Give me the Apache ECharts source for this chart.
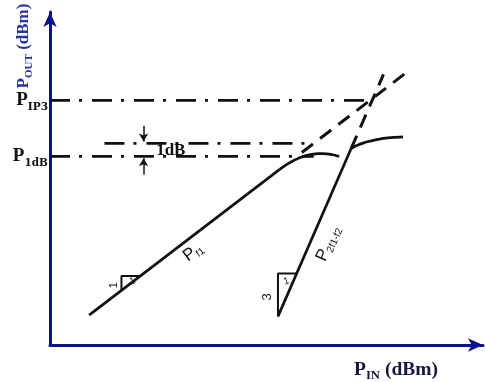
<!DOCTYPE html>
<html><head><meta charset="utf-8">
<script src="https://cdn.jsdelivr.net/npm/echarts@6/dist/echarts.min.js"></script>
<style>html,body{margin:0;padding:0;background:#fff}#chart{width:485px;height:382px}</style>
</head><body><div id="chart"></div>
<script>
// Axis ranges (dBm)
const pinRange = [-25, 0.45];
const poutRange = [-20, 5.6];

// Fundamental tone P_f1: linear 1 dB/dB region, then gain compression
const fundamentalLinPin  = [-22.7, -11.5];
const fundamentalLinPout = [-17.7, -6.5];
const fundamentalCompPin  = [-11.5, -11.25, -11.0, -10.75, -10.5, -10.25, -10.0, -9.75, -9.5, -9.25, -9.0, -8.75, -8.5, -8.25, -8.0];
const fundamentalCompPout = [-6.5, -6.27, -6.06, -5.87, -5.71, -5.57, -5.46, -5.38, -5.32, -5.29, -5.28, -5.3, -5.34, -5.41, -5.5];

// Third-order intermodulation product P_2f1-f2: linear 3 dB/dB region, then saturation
const im3LinPin  = [-11.6, -7.3];
const im3LinPout = [-17.8, -4.9];
const im3CompPin  = [-7.3, -7.1, -6.9, -6.6, -6.35, -6.0, -5.4, -4.8, -4.25];
const im3CompPout = [-4.9, -4.74, -4.62, -4.48, -4.38, -4.27, -4.12, -4.04, -4.0];

// Extrapolated small-signal responses meeting at the intercept point
const fundamentalExtPin  = [-10.2, -4.0];
const fundamentalExtPout = [-5.2, 1.0];
const im3ExtPin  = [-7.3, -5.4];
const im3ExtPout = [-4.9, 0.8];

// Reference levels
const ip3Level = -1.2, iip3 = -6.1;
const p1dBLevel = -5.5, p1dBIn = -9.5;
const linearLevel = -4.5, linearStart = -21.8;

// Slope triangles [Pin, Pout]
const fundTrianglePin  = [-20.8, -20.8, -19.7];
const fundTrianglePout = [-15.8, -14.7, -14.7];
const im3TrianglePin   = [-11.6, -11.6, -10.5];
const im3TrianglePout  = [-17.8, -14.5, -14.5];

const zip = (a, b) => a.map((v, i) => [v, b[i]]);
const NAVY = '#0c128a';
const INK = '#111';
const SERIF = 'Liberation Serif';
const WIDE_SERIF = 'DejaVu Serif';
const SANS = 'Liberation Sans';
const DASH_DOT = [20, 9, 3, 10];

function curve(data, opts) {
  return Object.assign({
    type: 'line', data, symbol: 'none', silent: true, z: 3,
    lineStyle: { color: INK, width: 2.7 }
  }, opts);
}
function textMark(x, y, text, label) {
  return {
    type: 'scatter', silent: true, symbolSize: 0.1, z: 6, data: [[x, y]],
    itemStyle: { color: 'transparent', opacity: 1 },
    label: Object.assign({ show: true, formatter: text, position: 'inside', color: INK,
      textBorderWidth: 0, opacity: 1 }, label)
  };
}

const levelRich = {
  p: { fontFamily: SERIF, fontWeight: 'bold', fontSize: 19, color: INK, lineHeight: 24 },
  s: { fontFamily: WIDE_SERIF, fontWeight: 'bold', fontSize: 10.5, color: INK, lineHeight: 13, verticalAlign: 'bottom' }
};
const sansRich = {
  p: { fontFamily: SANS, fontSize: 17, color: INK, lineHeight: 20 },
  s: { fontFamily: SANS, fontSize: 10, color: INK, lineHeight: 10, verticalAlign: 'bottom' }
};
function titleRich(fill, size) {
  return {
    p: { fontFamily: SERIF, fontWeight: 'bold', fontSize: size, fill, lineHeight: size + 5 },
    s: { fontFamily: SERIF, fontWeight: 'bold', fontSize: size * 0.65, fill, lineHeight: size * 0.7, verticalAlign: 'bottom' }
  };
}

const chart = echarts.init(document.getElementById('chart'), null, { renderer: 'canvas' });
chart.setOption({
  animation: false,
  backgroundColor: '#fff',
  grid: { left: 50, right: 2, top: 12, bottom: 37, outerBoundsMode: 'none' },
  xAxis: {
    type: 'value', min: pinRange[0], max: pinRange[1],
    axisLine: { onZero: false, lineStyle: { color: NAVY, width: 3 }, symbol: ['none', 'arrow'], symbolSize: [10, 15] },
    axisTick: { show: false }, axisLabel: { show: false }, splitLine: { show: false }
  },
  yAxis: {
    type: 'value', min: poutRange[0], max: poutRange[1],
    axisLine: { onZero: false, lineStyle: { color: NAVY, width: 3 }, symbol: ['none', 'arrow'], symbolSize: [10, 15] },
    axisTick: { show: false }, axisLabel: { show: false }, splitLine: { show: false }
  },
  graphic: [
    {
      type: 'text', x: 24, y: 46, rotation: Math.PI / 2,
      style: { text: '{p|P}{s|OUT}{p| (dBm)}', align: 'center', verticalAlign: 'middle', rich: titleRich('#26339a', 17) }
    },
    {
      type: 'text', x: 396, y: 370,
      style: { text: '{p|P}{s|IN}{p| (dBm)}', align: 'center', verticalAlign: 'middle', rich: titleRich('#17173f', 19.5) }
    }
  ],
  series: [
    // reference levels
    curve([[pinRange[0], ip3Level], [iip3, ip3Level]], { lineStyle: { color: INK, width: 2.7, type: DASH_DOT } }),
    curve([[pinRange[0], p1dBLevel], [p1dBIn, p1dBLevel]], { lineStyle: { color: INK, width: 2.7, type: DASH_DOT } }),
    curve([[linearStart, linearLevel], [p1dBIn, linearLevel]], { lineStyle: { color: INK, width: 2.7, type: DASH_DOT } }),
    // extrapolations
    curve(zip(fundamentalExtPin, fundamentalExtPout), { lineStyle: { color: INK, width: 3, type: [14, 9] } }),
    curve(zip(im3ExtPin, im3ExtPout), { lineStyle: { color: INK, width: 3, type: [14, 9] } }),
    // responses
    curve(zip(fundamentalLinPin, fundamentalLinPout)),
    curve(zip(fundamentalCompPin, fundamentalCompPout), { smooth: 0.2 }),
    curve(zip(im3LinPin, im3LinPout)),
    curve(zip(im3CompPin, im3CompPout), { smooth: 0.2 }),
    // slope triangles
    curve(zip(fundTrianglePin, fundTrianglePout), { lineStyle: { color: INK, width: 2 } }),
    curve(zip(im3TrianglePin, im3TrianglePout), { lineStyle: { color: INK, width: 2 } }),
    // 1 dB markers
    {
      type: 'line', data: [], silent: true,
      markLine: {
        silent: true, symbol: ['none', 'arrow'], symbolSize: [7, 8], label: { show: false },
        lineStyle: { color: INK, width: 1.5, type: 'solid' },
        data: [
          [{ coord: [-19.5, -3.15] }, { coord: [-19.5, -4.35] }],
          [{ coord: [-19.5, -6.9] }, { coord: [-19.5, -5.65] }]
        ]
      }
    },
    // text
    textMark(pinRange[0], ip3Level, '{p|P}{s|IP3}', { position: 'left', distance: 2, rich: levelRich }),
    textMark(pinRange[0], p1dBLevel, '{p|P}{s|1dB}', { position: 'left', distance: 2, rich: levelRich }),
    textMark(-17.9, -5.05, '1dB', { fontFamily: SERIF, fontWeight: 'bold', fontSize: 17 }),
    textMark(-16.6, -12.85, '{p|P}{s|f1}', { rotate: 37, rich: sansRich }),
    textMark(-8.65, -12.2, '{p|P}{s|2f1-f2}', { rotate: 66, rich: sansRich }),
    textMark(-21.25, -15.4, '1', { rotate: 90, fontFamily: SANS, fontSize: 11 }),
    textMark(-20.15, -15.1, '1', { rotate: 20, fontFamily: SANS, fontSize: 10 }),
    textMark(-12.2, -16.3, '3', { rotate: 90, fontFamily: SANS, fontSize: 13 }),
    textMark(-11.1, -15.1, '1', { rotate: 20, fontFamily: SANS, fontSize: 10 })
  ]
});
</script></body></html>
